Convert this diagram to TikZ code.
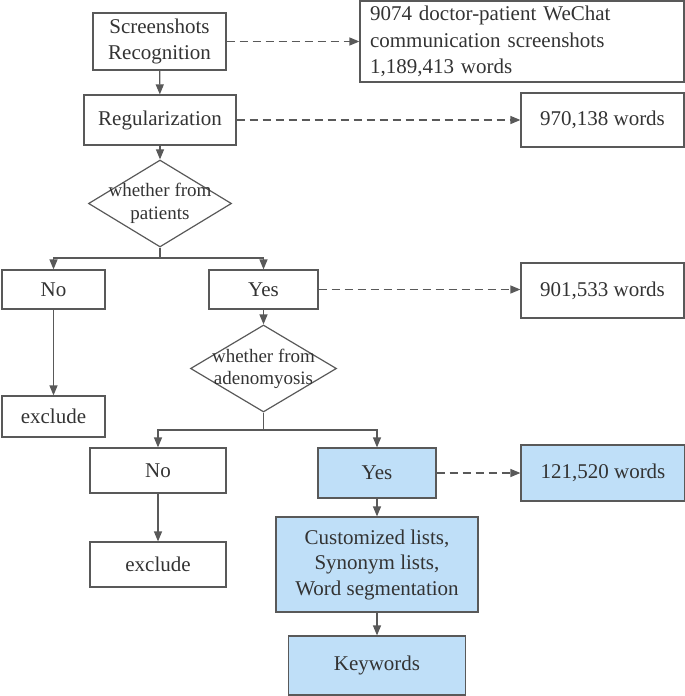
\documentclass[tikz,border=0pt]{standalone}
\usepackage{fontspec}
\setmainfont{Liberation Serif}
\newfontfamily\tnr{Liberation Serif}
\usetikzlibrary{arrows.meta,shapes.geometric}
\definecolor{ln}{HTML}{595959}
\definecolor{tx}{HTML}{333333}
\definecolor{bl}{HTML}{BFDFF8}
\tikzset{
  box/.style={draw=ln, line width=1.2pt, rectangle, inner sep=0pt, align=center, text=tx,
    font=\tnr\fontsize{21}{25.5}\selectfont},
  bluebox/.style={box, fill=bl},
  dia/.style={draw=ln, line width=1.2pt, diamond, inner sep=0pt},
  dtext/.style={text=tx, align=center, inner sep=0pt, font=\tnr\fontsize{19}{23.5}\selectfont},
  arr/.style={draw=ln, line width=1.2pt, -{Triangle[length=10pt,width=8pt]}},
  dasharr/.style={arr, dash pattern=on 8pt off 5pt},
  plain/.style={draw=ln, line width=1.2pt}
}
\begin{document}
\begin{tikzpicture}[x=1pt,y=-1pt]
\useasboundingbox (0,0) rectangle (685,696);
\node[box, minimum width=133pt, minimum height=57pt] (sr) at (159.5,41.5) {Screenshots\\Recognition};
\node[box, minimum width=324pt, minimum height=81pt, text width=304pt, align=left, inner xsep=10pt,
  font=\tnr\fontsize{21}{26.5}\selectfont] (top) at (522,41.5) {9074 doctor-patient WeChat\\communication screenshots\\1,189,413 words};
\node[box, minimum width=152pt, minimum height=50pt] (reg) at (160,120) {Regularization};
\node[box, minimum width=163pt, minimum height=54pt] (w970) at (602.5,120) {970,138 words};
\node[dia, minimum width=143pt, minimum height=87pt] (d1) at (160,203.5) {};
\node[dtext] (d1t) at (d1.center) {whether from\\patients};
\node[box, minimum width=103pt, minimum height=39pt] (no1) at (53.5,289.5) {No};
\node[box, minimum width=109pt, minimum height=39pt] (yes1) at (263.5,289.5) {Yes};
\node[box, minimum width=163pt, minimum height=55pt] (w901) at (602.5,290.5) {901,533 words};
\node[box, minimum width=103pt, minimum height=41pt] (ex1) at (53.5,416.5) {exclude};
\node[dia, minimum width=146pt, minimum height=87pt] (d2) at (263.5,368.5) {};
\node[dtext, font=\tnr\fontsize{19}{22}\selectfont] (d2t) at (d2.center) {whether from\\adenomyosis};
\node[box, minimum width=136pt, minimum height=45pt] (no2) at (158,470.5) {No};
\node[bluebox, minimum width=118pt, minimum height=50pt] (yes2) at (377,473) {Yes};
\node[bluebox, minimum width=164pt, minimum height=56pt] (w121) at (603,473) {121,520 words};
\node[box, minimum width=136pt, minimum height=45pt] (ex2) at (158,564.5) {exclude};
\node[bluebox, minimum width=202pt, minimum height=95pt] (cust) at (377,564.5) {Customized lists,\\Synonym lists,\\Word segmentation};
\node[bluebox, minimum width=177pt, minimum height=59pt] (kw) at (377,665.5) {Keywords};
\coordinate (j1) at (160,258);
\coordinate (j2) at (263.5,430);
\draw[arr] (sr) -- (reg);
\draw[dasharr] (sr.east) -- (sr.east -| top.west);
\draw[dasharr] (reg) -- (w970);
\draw[arr] (reg) -- (d1);
\draw[plain] (d1.south) -- (j1);
\draw[arr] (j1) -| (no1.north);
\draw[arr] (j1) -| (yes1.north);
\draw[dasharr] (yes1) -- (w901.west |- yes1);
\draw[arr] (no1) -- (ex1);
\draw[arr] (yes1) -- (d2);
\draw[plain] (d2.south) -- (j2);
\draw[arr] (j2) -| (no2.north);
\draw[arr] (j2) -| (yes2.north);
\draw[dasharr] (yes2) -- (w121);
\draw[arr] (no2) -- (ex2);
\draw[arr] (yes2) -- (cust);
\draw[arr] (cust) -- (kw);
\end{tikzpicture}
\end{document}
